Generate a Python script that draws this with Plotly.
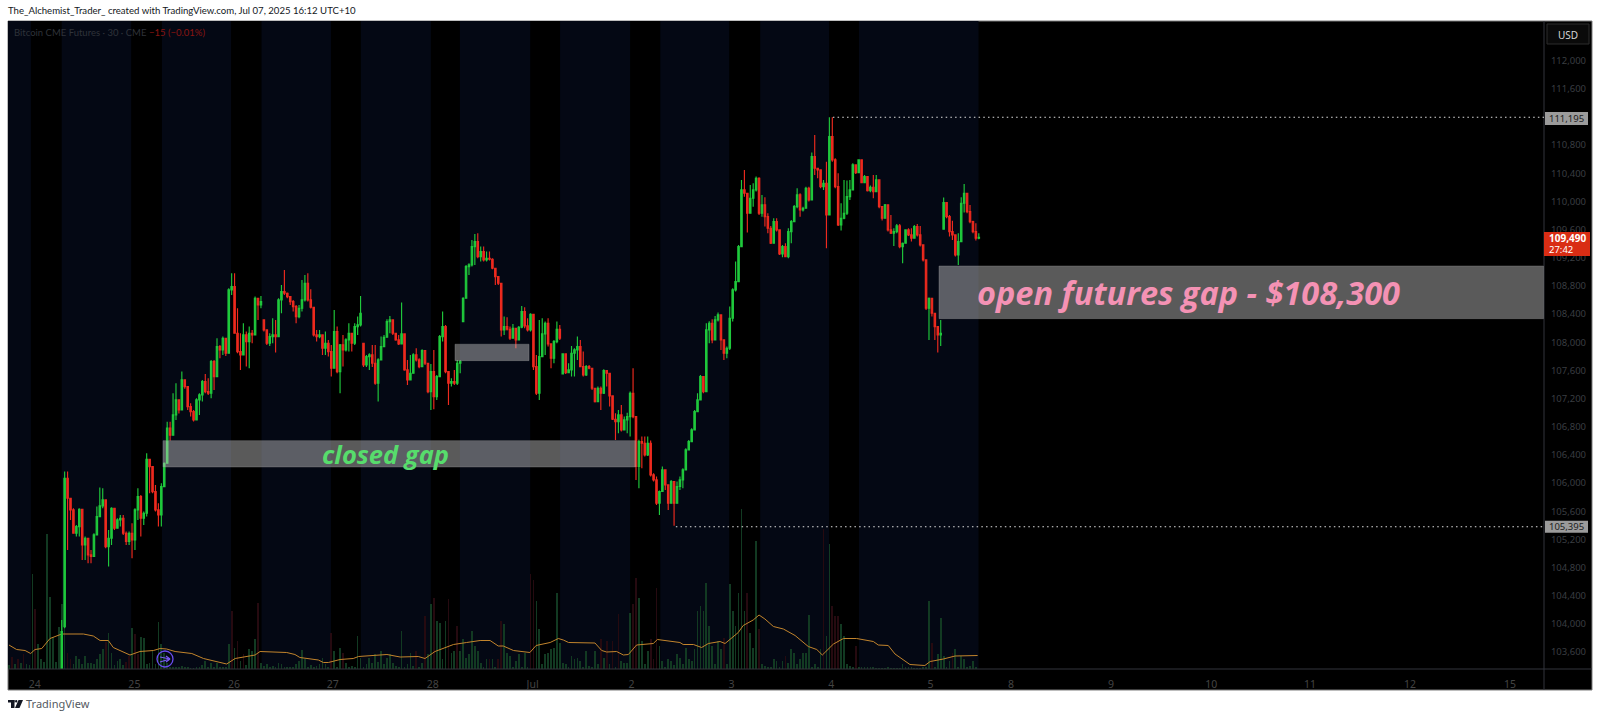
import plotly.graph_objects as go

W, H = 1600, 718
L, R, T, B = 8, 1544, 21, 669

# --- price series (30-minute-ish bars) ---
closes = [
103892,106069,105785,105619,105288,105382,105629,105122,105217,104980,
104957,105264,105524,105676,105761,105098,105217,105643,105359,105477,
105501,105288,105170,105288,105193,105619,105808,105501,105572,106339,
106234,105879,105619,105548,105950,106282,106780,106680,106968,107181,
107039,107465,107370,107087,107016,106897,107181,107252,107441,107300,
107276,107726,107513,107938,107891,108057,107844,108743,108790,108128,
107867,107820,108104,108010,108128,108104,108625,108530,108577,108175,
107986,108080,108104,108080,108601,108720,108696,108648,108577,108506,
108364,108483,108601,108838,108601,108497,108104,108080,108104,107915,
107986,107867,107631,108151,107583,107962,107891,108033,108128,107986,
108223,108246,108412,107678,107797,107820,107702,107418,107749,107938,
108071,108293,108317,108128,108033,107976,108118,107607,107465,107560,
107820,107749,107654,107882,107702,107300,107583,107229,107513,108080,
108223,107583,107418,107441,107418,107702,107725,108625,109074,109098,
109358,109429,109216,109287,109169,109193,109179,109051,108932,108838,
108175,108223,108185,108057,108199,108033,108213,108435,108232,108175,
108397,107654,107276,107797,108118,108270,107976,107773,108010,108185,
108057,107834,107569,107607,107844,107891,107938,107654,107536,107654,
107631,107347,107157,107347,107276,107598,107560,107238,106907,106874,
106968,106755,106897,106945,107276,106945,106235,106590,106566,106400,
106566,106116,106045,105714,105880,106187,105974,105714,106022,105714,
105951,106045,106187,106471,106590,106755,107016,107181,107513,107300,
108175,108270,108033,108317,108388,108033,107844,107915,108341,108743,
108861,109358,110163,110116,109832,110045,110163,110329,109832,109950,
109784,109619,109406,109713,109595,109254,109358,109217,109571,109713,
109926,110092,109879,109903,110187,110021,110636,110471,110447,110210,
110258,109808,110920,110589,110210,109666,109761,109832,110068,110163,
110518,110409,110589,110267,110352,110154,110201,110139,110305,109926,
109761,109950,109595,109548,109571,109652,109358,109406,109595,109524,
109477,109642,109524,109382,109169,108483,108625,108412,108222,108104,
108128,109983,109784,109571,109524,109240,109430,109974,110116,109855,
109713,109571,109477,109490]
highs = [
104057,106163,106163,105761,105643,105406,105643,105288,105240,105170,
105051,105288,105666,105936,105927,105619,105335,105657,105572,105501,
105548,105548,105311,105311,105430,105643,105927,105832,105595,106424,
106329,106234,105974,105714,105998,106291,106870,106870,107276,107418,
107181,107583,107465,107158,107134,107039,107205,107276,107465,107550,
107489,107749,107749,108057,107962,108080,108033,108767,108980,108980,
108483,108128,108270,108151,108223,108175,108648,108601,108658,108317,
108151,108128,108341,108317,108625,108814,109027,108705,108639,108601,
108530,108530,108885,108956,108980,108753,108497,108175,108175,108104,
108151,108033,107962,108459,108223,107975,108104,108057,108270,108128,
108270,108365,108658,107986,107820,107844,107962,107962,107773,108080,
108104,108327,108373,108293,108128,108104,108563,108128,107749,107820,
107844,107915,107773,107901,107882,107702,107692,107891,107536,108104,
108435,108246,107583,107489,107607,107749,107749,108639,109098,109122,
109453,109538,109548,109358,109358,109287,109287,109193,109036,108932,
108829,108364,108355,108223,108260,108199,108232,108516,108497,108341,
108412,108388,107820,108317,108341,108293,108341,107986,108033,108293,
108246,107844,107834,107702,107948,107915,108080,108033,107867,107678,
107678,107522,107347,107370,107370,107616,107598,107418,107063,106992,
107039,107110,106945,107000,107299,107631,106945,106614,106661,106661,
106661,106604,106140,106093,105894,106235,106116,105974,106045,106000,
106022,106093,106211,106495,106613,106779,107039,107276,107536,107513,
108270,108300,108327,108374,108421,108388,108033,107939,108506,108767,
109146,109382,110305,110447,110116,110234,110258,110353,110343,110092,
110059,109832,109652,109761,109761,109571,109382,109406,109619,109737,
109950,110187,110116,109926,110210,110210,110693,110944,110471,110447,
110305,110565,111195,111195,110613,110400,109974,110305,110296,110305,
110542,110518,110599,110518,110376,110329,110225,110376,110376,110281,
109879,109964,109808,109808,109619,109680,109680,109415,109605,109619,
109619,109666,109680,109652,109359,109169,108634,108563,108388,108200,
108317,110054,109983,109808,109727,109524,109548,110059,110248,110116,
109950,109727,109690,109548]
lows = [
103000,103939,105051,105477,105288,105240,105240,104909,104909,104862,
104862,104966,105311,105548,105643,105075,104815,105122,105335,105359,
105382,105264,105122,105122,104933,105051,105477,105240,105406,105524,
105856,105856,105595,105382,105382,105950,106600,106600,106680,106897,
106990,107181,107340,107039,106945,106874,106968,106968,107158,107276,
107252,107205,107323,107773,107773,107820,107806,107844,108672,108128,
107844,107607,107820,107654,107631,107986,108128,108317,108483,108151,
107962,107948,107986,107853,108080,108412,108672,108625,108530,108435,
108270,108341,108435,108577,108577,108480,108080,108010,108057,107820,
107820,107797,107513,107631,107560,107276,107654,107867,107867,107867,
107962,108104,108223,107650,107650,107607,107650,107395,107158,107749,
107962,108128,108128,108104,108022,107962,108033,107597,107394,107536,
107654,107725,107631,107654,107678,107276,107039,107049,107181,107513,
108010,107560,107110,107370,107394,107394,107560,108293,108648,108956,
109074,109098,109193,109145,109145,109145,109160,109036,108814,108814,
108080,108104,108166,108033,108057,107915,108024,108199,108199,108151,
108151,107607,107252,107181,107797,107820,107939,107631,107702,107986,
108033,107550,107550,107560,107513,107513,107749,107645,107513,107522,
107617,107323,107143,107157,107039,107266,107370,107087,106897,106613,
106708,106732,106755,106708,106660,106921,106045,105927,106211,106377,
106386,106093,106022,105690,105548,105880,105903,105619,105705,105395,
105714,105903,105927,106187,106471,106590,106779,107016,107181,107276,
107607,107986,107986,108033,108294,107891,107749,107773,107891,108294,
108720,108885,109358,110068,109557,109832,109926,110140,109808,109784,
109643,109548,109396,109501,109571,109240,109207,109207,109193,109406,
109713,109903,109784,109856,109903,110000,110021,110376,110329,110187,
110163,109335,109926,110565,110187,109652,109586,109747,109808,110021,
110281,110390,110471,110258,110329,110140,110130,110045,110139,109902,
109728,109855,109571,109538,109368,109548,109335,109122,109430,109510,
109430,109477,109501,109359,109146,108459,108033,108365,108033,107853,
107948,109605,109761,109501,109453,109217,109098,109572,109841,109832,
109690,109548,109444,109461]
first_open = 102900
gap_bars = [1, 69, 103, 137, 171, 301]
gap_opens = [103960, 108317, 107986, 108293, 107550, 109605]

opens = [first_open] + closes[:-1]
for gb, go_val in zip(gap_bars, gap_opens):
    opens[gb] = go_val
n = min(len(closes), len(highs), len(lows))
bars = list(range(n))
highs_s = [max(highs[i], opens[i], closes[i]) for i in range(n)]
lows_s = [min(lows[i], opens[i], closes[i]) for i in range(n)]

# --- volume: bar -18 onward, positive = up bar, negative = down bar ---
volume = [
8,-25,10,-20,12,-30,10,8,190,-120,50,20,15,270,145,65,15,85,
130,100,-33,-20,10,27,20,10,27,12,13,10,20,30,40,-55,73,33,8,17,20,8,-15,-27,83,-70,-30,65,63,10,13,37,10,95,50,33,13,
5,5,3,3,7,3,3,2,2,3,5,8,17,5,13,5,13,3,5,3,50,-117,43,-57,17,-30,8,40,37,60,-133,13,7,10,5,7,5,13,10,5,3,5,5,10,17,
38,20,5,8,5,7,10,23,10,5,-73,37,5,43,-33,13,5,7,5,67,23,5,10,23,13,30,15,37,10,23,30,13,7,5,77,5,10,33,7,-37,5,13,-107,30,
130,-143,97,93,20,97,-140,33,37,-87,37,60,23,30,77,47,37,13,5,20,-20,20,5,-20,-97,90,33,27,5,17,30,5,33,5,-190,-178,137,80,10,30,33,40,43,152,53,13,10,5,27,20,22,17,5,37,7,5,37,10,-60,23,-57,10,-57,5,-110,
17,13,13,113,-130,-183,143,57,10,37,-60,-20,-163,47,17,5,20,17,8,30,23,10,43,20,17,40,117,127,117,173,87,47,10,57,40,-63,10,170,117,87,153,320,117,-153,73,43,257,-80,10,7,3,5,20,17,5,17,-27,13,40,33,10,20,33,33,108,5,10,5,40,-280,67,250,-127,-107,-107,90,67,10,7,5,-47,3,3,3,3,3,3,2,2,2,2,3,2,2,2,2,10,3,3,3,2,2,2,3,3,137,-53,5,30,103,27,5,17,-33,40,5,27,20,5,7,17,5]
vol_x = [i - 18 for i in range(len(volume))]
vol_up = [v if v > 0 else None for v in volume]
vol_down = [-v if v < 0 else None for v in volume]

ma_bars = [-18,-15.4,-12.5,-10.6,-9.1,-6.8,-4,0,7.4,10.8,13.1,15.9,17.6,23.3,26.7,31.3,33.6,35.8,38.7,44.4,48.4,52.9,56.3,59.2,66,67.7,76.8,79.6,
81.3,87.6,89.3,91,95,99.5,101.3,111,115.5,121.7,124,127.4,131.4,133.7,138.2,142.8,146.2,149,150.7,154.2,159.8,161.9,166.7,169.5,171.2,173,182,184.3,186,189.4,
191.7,193.4,196.2,201.9,203.3,211,212.1,215.6,218.4,220.7,224.7,226.4,230.9,232.6,236,238,240,242.9,246.3,250.3,254.8,257.7,259.6,263.4,266.8,271.3,277,278.7,282.1,284.4,289.5,294.6,296.4,300.9,304.9,312.6]
ma_vals = [48,39,37,31,39,41,61,70,70,66,57,57,43,28,35,37,41,40,35,31,21,15,10,21,28,35,33,29,
23,18,13,13,19,21,25,29,24,25,21,35,43,49,53,57,57,46,46,37,33,47,53,61,58,53,52,37,34,35,
28,29,48,51,59,53,49,49,43,51,55,51,73,87,98,108,100,85,80,67,45,39,28,50,61,61,55,48,47,30,9,7,15,20,26,27]

# --- axis ---
tick_bars = [-9.2,24.8,58.8,92.5,126.6,160.7,194.5,228.6,262.6,296.5,324,358.1,392.3,426,460.2,494.3]
tick_labels = ["24","25","26","27","28","Jul","2","3","4","5","8","9","10","11","12","15"]
price_ticks = list(range(103600, 112001, 400))
band_starts = [-10.5,23.7,57.8,91.9,126,159.9,194,227.8,261.9]
band_ends = [0,34.2,68.2,102.1,135.9,170.1,204.3,238.4,272.1]
x_range = [-18.33, 505.9]
y_range = [103360, 112562]
vol_range = [0, 1296]
data_end = 312.9


def px(x):
    return (x - L) / (R - L)


def py(y):
    return 1 - (y - T) / (B - T)


BG = "#040814"
AX = "#33353d"
shapes = []
# chart frame
shapes.append(dict(type="rect", layer="below", xref="paper", yref="paper", x0=px(8), x1=px(1592), y0=py(21), y1=py(690),
                   fillcolor="#000000", line=dict(color="#7d7d7d", width=1)))
shapes.append(dict(type="rect", layer="below", xref="x", yref="paper", x0=x_range[0], x1=data_end, y0=0, y1=1,
                   fillcolor=BG, line_width=0))
for a, b in zip(band_starts, band_ends):
    shapes.append(dict(type="rect", layer="below", xref="x", yref="paper", x0=a, x1=b, y0=0, y1=1,
                       fillcolor="#000000", line_width=0))
# separators
shapes.append(dict(type="line", xref="paper", yref="paper", x0=1, x1=1, y0=py(21), y1=py(690), line=dict(color=AX, width=1)))
shapes.append(dict(type="line", xref="paper", yref="paper", x0=px(8), x1=px(1592), y0=0, y1=0, line=dict(color=AX, width=1)))
# gap zones (price bounds)
box = "rgba(204,204,204,0.44)"
edge = "rgba(150,150,150,0.35)"
gap_zones = [(163.0, 635.7, 106603, 106229), (455, 529, 107972, 107739), (939, 1543.5, 109083, 108335)]
for x0, x1, p1, p0 in gap_zones:
    shapes.append(dict(type="rect", layer="above", xref="paper", yref="y2", x0=px(x0), x1=px(x1), y0=p0, y1=p1,
                       fillcolor=box, line=dict(color=edge, width=1)))
# dotted high / low lines
shapes.append(dict(type="line", xref="x", yref="y2", x0=263.2, x1=x_range[1], y0=111195, y1=111195,
                   line=dict(color="#e0e0e0", width=1.2, dash="1.5px,3.2px")))
shapes.append(dict(type="line", xref="x", yref="y2", x0=209.6, x1=x_range[1], y0=105380, y1=105380,
                   line=dict(color="#e0e0e0", width=1.2, dash="1.5px,3.2px")))
# price scale badges
shapes.append(dict(type="rect", xref="paper", yref="paper", x0=px(1547), x1=px(1589), y0=py(24), y1=py(44),
                   fillcolor="#0a0a0a", line=dict(color="#2c2c2c", width=1)))
for y0, y1 in [(112, 125), (520.7, 532.7)]:
    shapes.append(dict(type="rect", xref="paper", yref="paper", x0=px(1545), x1=px(1588), y0=py(y0), y1=py(y1),
                       fillcolor="#9b9b9b", line_width=0))
shapes.append(dict(type="rect", xref="paper", yref="paper", x0=px(1544), x1=px(1590), y0=py(232), y1=py(256),
                   fillcolor="#d92d14", line_width=0))
# session-break icon
shapes.append(dict(type="circle", xref="paper", yref="paper", x0=px(157), x1=px(173), y0=py(651), y1=py(667),
                   fillcolor="rgba(0,0,0,0)", line=dict(color="#6a4df0", width=1.3)))
for xa, ya, xb, yb in [(160, 657, 170, 659), (160, 662, 170, 659), (166, 656, 170, 659), (166, 662, 170, 659)]:
    shapes.append(dict(type="line", xref="paper", yref="paper", x0=px(xa), x1=px(xb), y0=py(ya), y1=py(yb),
                       line=dict(color="#7a5cf5", width=1.2)))
# TradingView mark
logo_dark = "#131722"
shapes.append(dict(type="rect", xref="paper", yref="paper", x0=px(8), x1=px(14.5), y0=py(700), y1=py(702.5), fillcolor=logo_dark, line_width=0))
shapes.append(dict(type="rect", xref="paper", yref="paper", x0=px(11), x1=px(14.5), y0=py(700), y1=py(708), fillcolor=logo_dark, line_width=0))
shapes.append(dict(type="circle", xref="paper", yref="paper", x0=px(15), x1=px(17.4), y0=py(700), y1=py(702.4), fillcolor=logo_dark, line_width=0))
tv = "M %f %f L %f %f L %f %f L %f %f Z" % (px(18.5), py(700), px(23), py(700), px(19.5), py(708), px(15), py(708))
shapes.append(dict(type="path", xref="paper", yref="paper", path=tv, fillcolor=logo_dark, line_width=0))

ann = []


def text(x, y, s, size, color, font="Noto Sans", anchor="left", bold=False, italic=False):
    if bold:
        s = "<b>%s</b>" % s
    if italic:
        s = "<i>%s</i>" % s
    ann.append(dict(xref="paper", yref="paper", x=px(x), y=py(y), text=s, showarrow=False, xanchor=anchor,
                    yanchor="middle", font=dict(family=font, size=size, color=color), borderpad=0, borderwidth=0))


text(8, 11, "The_Alchemist_Trader_ created with TradingView.com, Jul 07, 2025 16:12 UTC+10", 9.6, "#131722", font="Lato")
text(14, 33, "Bitcoin CME Futures · 30 · CME", 9.5, "#2f333a", font="Lato")
text(149, 33, "−15 (−0.01%)", 9.5, "#8a1512", font="Lato")
text(1568, 34.5, "USD", 10, "#d6d6d6", anchor="center")
text(1566.5, 118.5, "111,195", 9.5, "#1c1c1c", anchor="center")
text(1566.5, 526.7, "105,395", 9.5, "#1c1c1c", anchor="center")
text(1567, 238, "109,490", 10, "#ffffff", anchor="center", bold=True)
text(1561, 249.5, "27:42", 9.5, "#ffffff", anchor="center")
text(26, 704, "TradingView", 11, "#555a62")
text(385.5, 454, "closed gap", 25.5, "#57dc6c", font="Open Sans", anchor="center", bold=True, italic=True)
text(1188, 292, "open futures gap - $108,300", 32.5, "#f492b4", font="Open Sans", anchor="center", bold=True, italic=True)

fig = go.Figure()
fig.add_trace(go.Bar(x=vol_x, y=vol_up, marker=dict(color="#123a22", line_width=0), width=0.25, yaxis="y", showlegend=False, name="Volume up"))
fig.add_trace(go.Bar(x=vol_x, y=vol_down, marker=dict(color="#260a10", line_width=0), width=0.25, yaxis="y", showlegend=False, name="Volume down"))
fig.add_trace(go.Scatter(x=ma_bars, y=ma_vals, mode="lines", line=dict(color="#c2842c", width=1), yaxis="y", showlegend=False, name="Volume MA"))
fig.add_trace(go.Candlestick(x=bars, open=opens[:n], high=highs_s, low=lows_s, close=closes[:n], yaxis="y2", showlegend=False,
                             name="Bitcoin CME Futures", whiskerwidth=0,
                             increasing=dict(line=dict(color="#1fc93c", width=1.15), fillcolor="#1fc93c"),
                             decreasing=dict(line=dict(color="#ee2a1e", width=1.15), fillcolor="#ee2a1e")))

fig.update_layout(
    width=W, height=H, margin=dict(l=L, r=W - R, t=T, b=H - B, pad=0), autosize=False,
    paper_bgcolor="#ffffff", plot_bgcolor="rgba(0,0,0,0)", showlegend=False, barmode="overlay", bargap=0,
    hovermode=False, shapes=shapes, annotations=ann,
    xaxis=dict(range=x_range, tickvals=tick_bars, ticktext=tick_labels, showgrid=False, zeroline=False, showline=False,
               ticks="outside", ticklen=5, tickcolor="rgba(0,0,0,0)", tickfont=dict(family="Noto Sans", size=10.5, color="#444444"),
               rangeslider=dict(visible=False), fixedrange=True),
    yaxis=dict(range=vol_range, visible=False, fixedrange=True, showgrid=False, zeroline=False),
    yaxis2=dict(range=y_range, overlaying="y", side="right", anchor="x", tickvals=price_ticks, tickformat=",d",
                showgrid=False, zeroline=False, showline=False, ticks="outside", ticklen=4, tickcolor="rgba(0,0,0,0)",
                tickfont=dict(family="Noto Sans", size=9.5, color="#3a3e42"), fixedrange=True),
)
fig.write_html("out.html", config=dict(displayModeBar=False),
               post_script="document.body.style.margin='0';document.documentElement.style.overflow='hidden';")
